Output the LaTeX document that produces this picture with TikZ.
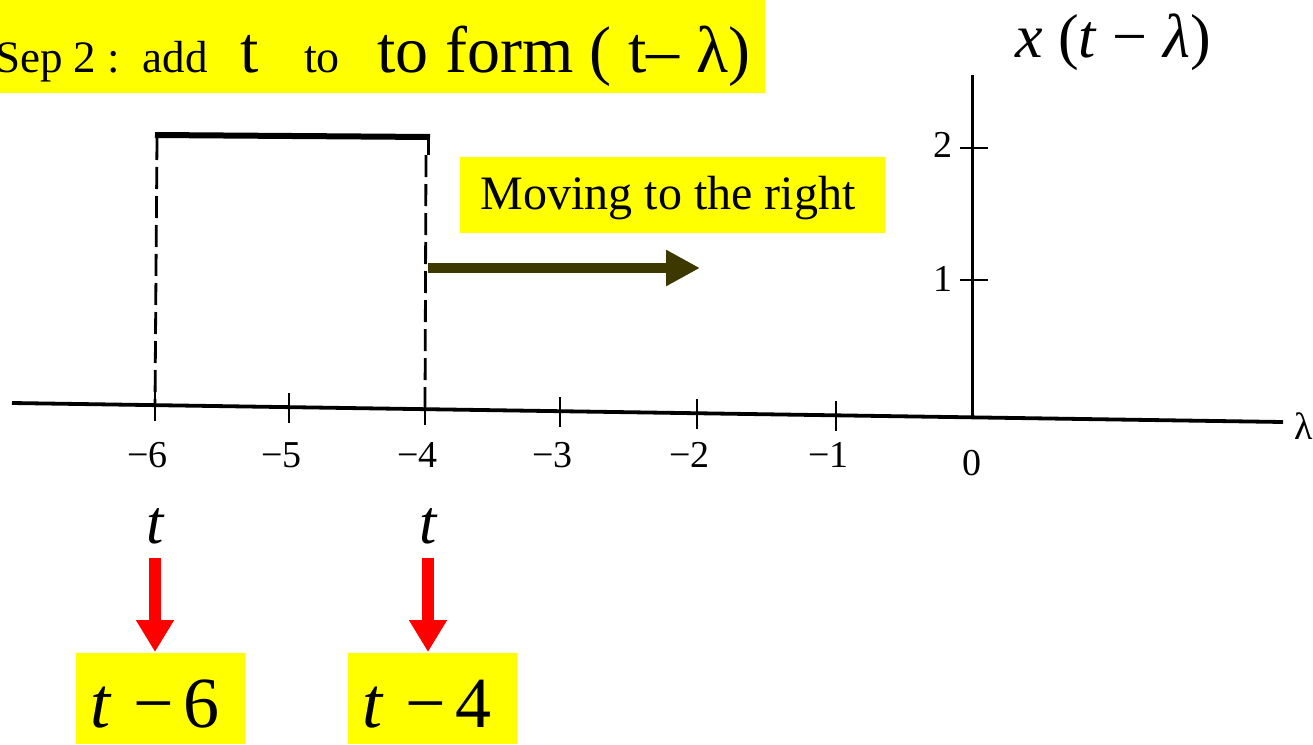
\documentclass[tikz,border=0pt]{standalone}
\usepackage{fontspec}
\setmainfont{Liberation Serif}
\usetikzlibrary{arrows.meta}
\definecolor{hl}{RGB}{255,255,0}
\definecolor{darkolv}{RGB}{60,56,0}
\definecolor{arrred}{RGB}{255,0,0}
\tikzset{
  fs/.style={font=\fontsize{#1}{#1}\selectfont},
  txt/.style={inner sep=0pt, anchor=base west},
  hlbox/.style={fill=hl, draw=none},
  axisline/.style={line width=3.8pt, black},
  tickline/.style={line width=2.8pt, black},
  dashline/.style={line width=2.8pt, dash pattern=on 22pt off 7pt},
  ticklab/.style={fs=38, inner sep=0pt},
  redarrow/.style={arrred, line width=12pt, -{Triangle[width=36pt,length=32pt]}},
  olvarrow/.style={darkolv, line width=10pt, -{Triangle[width=34pt,length=34pt]}},
}
\begin{document}
\begin{tikzpicture}[x=1pt,y=-1pt]
\useasboundingbox (0,0) rectangle (1313,744);
\clip (0,0) rectangle (1313,744);
% title
\fill[hlbox] (0,0) rectangle (765,93);
\node[txt, fs=45] (s1) at (-5,72) {Sep 2 :\ \ add};
\node[txt, fs=66] (s2) at (240,72) {t};
\node[txt, fs=46] (s3) at (304,72) {to};
\node[txt, fs=66] (s4) at (377,72) {to form ( t– λ)};
% y-axis label
\node[fs=62, inner sep=0pt] (ylab) at (1113,42) {\textit{x} (\textit{t} − \textit{λ})};
% axes
\coordinate (xa0) at (12,403);
\coordinate (xa1) at (1283,422);
\draw[axisline] (xa0) -- (xa1);
\node[fs=38, inner sep=0pt, anchor=west] (lam) at (1294,426) {λ};
\coordinate (ya0) at (972,417);
\coordinate (ya1) at (972,75);
\draw[line width=3pt] (ya0) -- (ya1);
% y ticks
\coordinate (y2) at (972,148);
\coordinate (y1) at (972,280);
\draw[tickline] ([xshift=-12pt]y2) -- ([xshift=16pt]y2);
\draw[tickline] ([xshift=-12pt]y1) -- ([xshift=16pt]y1);
\node[ticklab, anchor=east] (l2) at (953,145) {2};
\node[ticklab, anchor=east] (l1) at (953,279) {1};
% x ticks
\foreach \x/\y/\lab [count=\i] in {155/405/−6, 289/407/−5, 425/409/−4, 560/411/−3, 697/413/−2, 836/415/−1}{
  \coordinate (t\i) at (\x,\y);
  \draw[tickline] ([yshift=-16pt]t\i) -- ([yshift=14pt]t\i);
  \node[ticklab, anchor=east] (tl\i) at (\x+13,455) {\lab};
}
\node[ticklab] (tl0) at (972,463) {0};
% pulse
\coordinate (pA) at (157,135);
\coordinate (pB) at (428,137);
\draw[line width=6pt] ([xshift=-2pt]pA) -- ([xshift=2pt]pB);
\draw[line width=3pt] (pB) -- ++(0,18);
\draw[dashline] (157,138) -- (t1);
\draw[dashline] (426,155) -- (t3);
% moving arrow
\fill[hlbox] (460,157) rectangle (885,233);
\node[fs=48, inner sep=0pt] (mv) at (668,198) {Moving to the right};
\coordinate (ma0) at (428,268);
\coordinate (ma1) at (700,268);
\draw[olvarrow] (ma0) -- (ma1);
% t labels and red arrows
\node[fs=62, inner sep=0pt] (ta) at (156,526) {\textit{t}};
\node[fs=62, inner sep=0pt] (tb) at (429,526) {\textit{t}};
\fill[hlbox] (76,653) rectangle (245,744);
\fill[hlbox] (348,653) rectangle (517,744);
\node[fs=72, inner sep=0pt] (ba) at (155,704) {\textit{t}\hspace{0.3em}−\hspace{0.14em}6};
\node[fs=72, inner sep=0pt] (bb) at (427,704) {\textit{t}\hspace{0.3em}−\hspace{0.14em}4};
\coordinate (ra0) at (155,558);
\coordinate (ra1) at (155,652);
\coordinate (rb0) at (428,558);
\coordinate (rb1) at (428,652);
\draw[redarrow] (ra0) -- (ra1);
\draw[redarrow] (rb0) -- (rb1);
\end{tikzpicture}
\end{document}
